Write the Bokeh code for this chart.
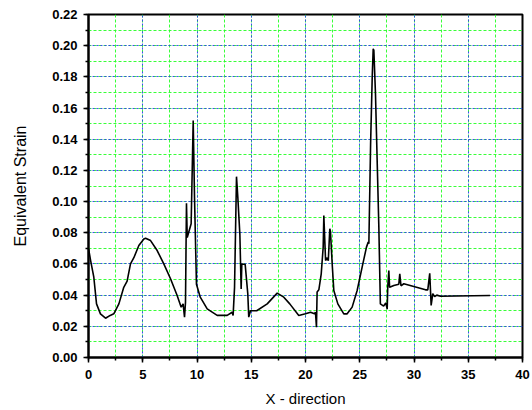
from bokeh.plotting import figure
from bokeh.models import SingleIntervalTicker, NumeralTickFormatter, Range1d
from bokeh.embed import file_html
from bokeh.resources import INLINE

x_vals = [0.0, 0.2, 0.49, 0.74, 1.1, 1.57, 2.0, 2.33, 2.8, 3.25, 3.56, 3.87, 4.18, 4.64, 5.1, 5.26,
          5.72, 6.33, 6.94, 7.56, 8.17, 8.54, 8.72, 8.85, 8.94, 9.03, 9.1, 9.46, 9.65, 9.77,
          9.95, 10.3, 10.94, 11.86, 12.78, 13.24, 13.33, 13.46, 13.64, 13.76, 13.95, 14.07,
          14.13, 14.44, 14.68, 14.77, 14.93, 15.5, 16.47, 17.39, 18.0, 18.55, 19.38, 20.0,
          20.46, 20.83, 20.92, 21.01, 21.07, 21.23, 21.45, 21.63, 21.69, 21.85, 22.0, 22.1,
          22.24, 22.3, 22.46, 22.61, 22.98, 23.53, 23.84, 24.3, 24.76, 25.22, 25.62, 25.78,
          25.84, 26.0, 26.15, 26.24, 26.3, 26.45, 26.76, 26.9, 27.2, 27.4, 27.53, 27.58,
          27.68, 27.75, 28.14, 28.6, 28.69, 28.8, 29.06, 29.98, 31.06, 31.27, 31.45, 31.58,
          31.73, 31.9, 32.1, 32.44, 37.0]
y_vals = [0.070, 0.062, 0.0515, 0.0344, 0.028, 0.0252, 0.027, 0.028, 0.0344, 0.045, 0.049, 0.060,
          0.064, 0.0718, 0.076, 0.0765, 0.075, 0.0686, 0.060, 0.0505, 0.0398, 0.0323, 0.0344,
          0.0259, 0.0355, 0.099, 0.077, 0.0858, 0.152, 0.103, 0.047, 0.0387, 0.0312, 0.027,
          0.027, 0.029, 0.027, 0.045, 0.116, 0.103, 0.079, 0.044, 0.060, 0.0597, 0.041,
          0.0259, 0.030, 0.030, 0.0344, 0.0413, 0.0387, 0.0344, 0.027, 0.028, 0.029, 0.028,
          0.029, 0.0194, 0.042, 0.0434, 0.0537, 0.0708, 0.091, 0.0622, 0.064, 0.062, 0.0826,
          0.081, 0.060, 0.043, 0.0344, 0.028, 0.028, 0.0323, 0.043, 0.058, 0.0708, 0.074,
          0.073, 0.137, 0.180, 0.198, 0.197, 0.169, 0.0836, 0.0344, 0.033, 0.035, 0.031,
          0.045, 0.0558, 0.045, 0.0462, 0.047, 0.0537, 0.046, 0.0473, 0.0455, 0.0434, 0.0434,
          0.054, 0.0334, 0.041, 0.039, 0.040, 0.0393, 0.0398]

p = figure(width=532, height=410, output_backend="svg", toolbar_location=None,
           x_range=Range1d(0, 40), y_range=Range1d(0, 0.22),
           min_border_left=88, min_border_top=14, min_border_right=10, min_border_bottom=53)
p.background_fill_color = "white"
p.border_fill_color = "white"
p.outline_line_color = "black"
p.outline_line_width = 2

p.line(x_vals, y_vals, line_color="black", line_width=1.6)

p.xaxis.ticker = SingleIntervalTicker(interval=5, num_minor_ticks=2)
p.yaxis.ticker = SingleIntervalTicker(interval=0.02, num_minor_ticks=2)
p.yaxis.formatter = NumeralTickFormatter(format="0.00")

for ax in (p.xaxis[0], p.yaxis[0]):
    ax.axis_line_width = 2
    ax.axis_line_color = "black"
    ax.major_tick_line_width = 1.5
    ax.minor_tick_line_width = 1.5
    ax.major_tick_out = 5
    ax.major_tick_in = 0
    ax.minor_tick_out = 3
    ax.minor_tick_in = 0
    ax.major_label_text_font = "Liberation Sans"
    ax.major_label_text_font_size = "13px"
    ax.major_label_text_font_style = "bold"
    ax.major_label_text_color = "black"
    ax.axis_label_text_font = "Liberation Sans"
    ax.axis_label_text_font_style = "normal"
    ax.axis_label_text_color = "black"

p.xaxis.axis_label = "X - direction"
p.yaxis.axis_label = "Equivalent Strain"
p.xaxis.axis_label_text_font_size = "15px"
p.yaxis.axis_label_text_font_size = "16px"
p.xaxis.major_label_standoff = 7
p.yaxis.major_label_standoff = 6
p.xaxis.axis_label_standoff = 8
p.yaxis.axis_label_standoff = 20

for g in (p.xgrid[0], p.ygrid[0]):
    g.grid_line_color = "#3030ff"
    g.grid_line_dash = "2 2"
    g.grid_line_width = 1
    g.grid_line_alpha = 0.85
    g.minor_grid_line_color = "#22ff22"
    g.minor_grid_line_dash = "3 2"
    g.minor_grid_line_width = 1
    g.minor_grid_line_alpha = 0.9

open("out.html", "w").write(file_html(p, INLINE))
